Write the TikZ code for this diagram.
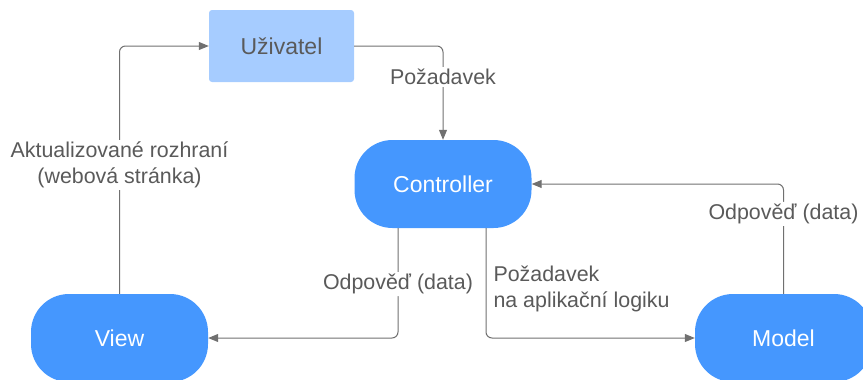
\documentclass[tikz,border=0pt]{standalone}
\usepackage{fontspec}
\setmainfont{Liberation Sans}
\usetikzlibrary{arrows.meta}

\definecolor{mvcblue}{HTML}{4597FE}
\definecolor{userblue}{HTML}{A6CCFF}
\definecolor{linkgray}{HTML}{707070}
\definecolor{textgray}{HTML}{5A5A5A}

\tikzset{
  part/.style={fill=mvcblue,text=white,rounded corners=38pt,
    minimum width=177pt,minimum height=88pt,font=\fontsize{23}{27}\selectfont},
  actor/.style={fill=userblue,text=textgray,rounded corners=3pt,
    minimum width=145pt,minimum height=72pt,font=\fontsize{23}{27}\selectfont},
  link/.style={draw=linkgray,line width=1pt,rounded corners=6pt,
    -{Triangle[length=10pt,width=8pt]}},
  lbl/.style={fill=white,text=textgray,align=center,inner sep=2pt,
    font=\fontsize{21.4}{25.5}\selectfont}
}

\begin{document}
\begin{tikzpicture}[x=1pt,y=-1pt]
  \useasboundingbox (0,0) rectangle (863,380);
  \node[actor] (user) at (281.5,46) {Uživatel};
  \node[part] (controller) at (443,184) {Controller};
  \node[part] (view) at (119.5,338) {View};
  \node[part] (model) at (783.5,338) {Model};

  \draw[link] (view.north) |- node[lbl,pos=0.26]
    {Aktualizované rozhraní\\(webová stránka)} (user.west);
  \draw[link] (user.east) -| node[lbl,pos=0.665] {Požadavek} (controller.north);
  \draw[link] ([xshift=-45pt]controller.south) |- node[lbl,pos=0.255]
    {Odpověď (data)} (view.east);
  \draw[link] ([xshift=43pt]controller.south) |- node[lbl,pos=0.277,
    anchor=west,align=left,inner sep=0pt,xshift=7pt]
    {Požadavek\\na aplikační logiku} (model.west);
  \draw[link] (model.north) |- node[lbl,pos=0.364] {Odpověď (data)} (controller.east);
\end{tikzpicture}
\end{document}
